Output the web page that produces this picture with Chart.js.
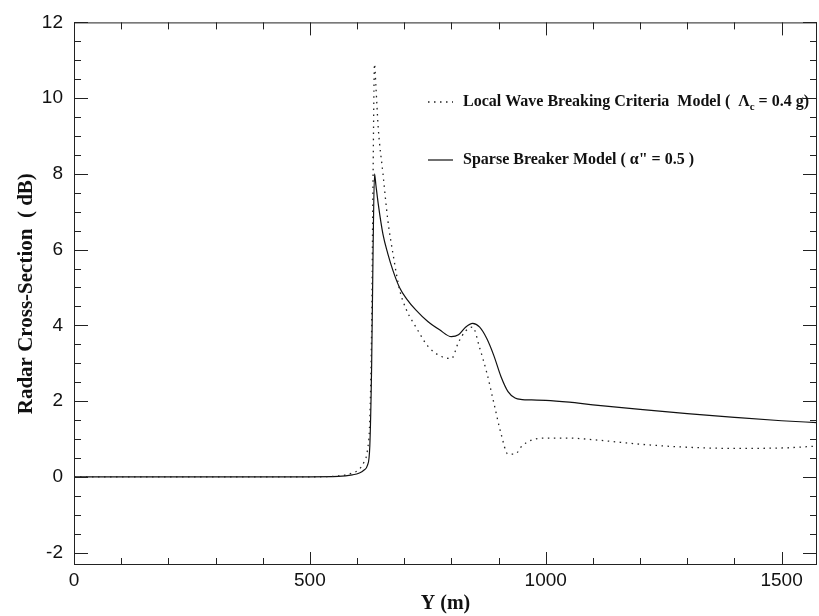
<!DOCTYPE html>
<html>
<head>
<meta charset="utf-8">
<script src="https://cdn.jsdelivr.net/npm/chart.js@4.4.1/dist/chart.umd.min.js"></script>
<style>
  html, body { margin: 0; padding: 0; background: #fff; }
  #wrap { width: 819px; height: 616px; }
</style>
</head>
<body>
<div id="wrap"><canvas id="mainGraph"></canvas></div>
<script>
// distance along track (m)
const yPos = [0, 100, 200, 300, 400, 500, 560, 590, 605, 615, 622, 627, 631, 634, 637, 640, 645, 655, 665, 676, 690, 705, 725, 750, 775, 800, 815, 830, 845, 860, 875, 890, 905, 920, 935, 950, 970, 1000, 1050, 1100, 1200, 1300, 1400, 1500, 1575];

// Local Wave Breaking Criteria Model (dotted)
const localWave = [0, 0, 0, 0, 0, 0, 0.02, 0.1, 0.2, 0.4, 0.7, 1.5, 4.0, 8.0, 10.9, 10.3, 9.2, 8.0, 6.8, 5.9, 4.95, 4.4, 3.95, 3.45, 3.2, 3.12, 3.55, 3.85, 3.95, 3.4, 2.75, 1.95, 1.15, 0.6, 0.6, 0.82, 0.97, 1.02, 1.02, 0.98, 0.86, 0.78, 0.75, 0.76, 0.81];

// Sparse Breaker Model (solid)
const sparse = [0, 0, 0, 0, 0, 0, 0.01, 0.05, 0.1, 0.18, 0.3, 0.8, 3.0, 6.0, 8.0, 7.7, 7.2, 6.4, 5.9, 5.45, 5.0, 4.7, 4.4, 4.1, 3.88, 3.7, 3.75, 3.95, 4.05, 3.95, 3.65, 3.2, 2.65, 2.25, 2.08, 2.04, 2.03, 2.02, 1.97, 1.9, 1.78, 1.67, 1.57, 1.48, 1.43];

const xTicks = [0, 500, 1000, 1500];
const yTicks = [-2, 0, 2, 4, 6, 8, 10, 12];

const toPts = (vals) => vals.map((v, i) => ({x: yPos[i], y: v}));

// inward ticks on all four sides, frame and legend
const frameTicks = {
  id: 'frameTicks',
  afterDraw(chart) {
    const c = chart.ctx, a = chart.chartArea;
    const xs = chart.scales.x, ys = chart.scales.y;
    c.save();
    c.strokeStyle = '#222';
    c.lineWidth = 1;
    c.strokeRect(a.left + 0.5, a.top + 0.5, a.right - a.left - 1, a.bottom - a.top - 1);
    c.beginPath();
    for (let v = 0; v <= xs.max; v += 100) {
      const px = Math.round(xs.getPixelForValue(v)) + 0.5;
      const len = v % 500 === 0 ? 13 : 7;
      c.moveTo(px, a.bottom); c.lineTo(px, a.bottom - len);
      c.moveTo(px, a.top); c.lineTo(px, a.top + len);
    }
    for (let v = -2; v <= 12; v += 0.5) {
      const py = Math.round(ys.getPixelForValue(v)) + 0.5;
      const len = v % 2 === 0 ? 14 : 7;
      c.moveTo(a.left, py); c.lineTo(a.left + len, py);
      c.moveTo(a.right, py); c.lineTo(a.right - len, py);
    }
    c.stroke();

    // legend
    const sx0 = 428, sx1 = 453, tx = 463;
    const rows = [
      {ds: 0, y: 102},
      {ds: 1, y: 160}
    ];
    c.textBaseline = 'middle';
    c.fillStyle = '#111';
    rows.forEach(r => {
      const ds = chart.data.datasets[r.ds];
      c.beginPath();
      c.setLineDash(ds.borderDash || []);
      c.lineWidth = ds.borderWidth;
      c.strokeStyle = ds.borderColor;
      c.moveTo(sx0, r.y); c.lineTo(sx1, r.y);
      c.stroke();
      c.setLineDash([]);
      let x = tx;
      ds.legendParts.forEach(p => {
        c.font = p.sub ? 'bold 11px "Liberation Serif"' : 'bold 16px "Liberation Serif"';
        c.fillText(p.t, x, r.y + (p.sub ? 5 : 0));
        x += c.measureText(p.t).width;
      });
    });
    c.restore();
  }
};

const ctx = document.getElementById('mainGraph').getContext('2d');

const chart = new Chart(ctx, {
  type: 'line',
  data: {
    datasets: [
      {
        label: 'Local Wave Breaking Criteria  Model (  \u039Bc = 0.4 g)',
        legendParts: [{t: 'Local Wave Breaking Criteria  Model (  \u039B'}, {t: 'c', sub: true}, {t: ' = 0.4 g)'}],
        data: toPts(localWave),
        borderColor: '#222',
        borderWidth: 1.3,
        borderDash: [1.5, 4.5],
        pointRadius: 0,
        cubicInterpolationMode: 'monotone'
      },
      {
        label: 'Sparse Breaker Model ( \u03B1" = 0.5 )',
        legendParts: [{t: 'Sparse Breaker Model ( \u03B1" = 0.5 )'}],
        data: toPts(sparse),
        borderColor: '#111',
        borderWidth: 1.2,
        pointRadius: 0,
        cubicInterpolationMode: 'monotone'
      }
    ]
  },
  options: {
    responsive: true,
    maintainAspectRatio: false,
    animation: false,
    layout: { padding: { top: 16, right: 2, left: 0, bottom: 0 } },
    plugins: {
      legend: { display: false },
      tooltip: { enabled: false }
    },
    scales: {
      x: {
        type: 'linear',
        min: 0,
        max: 1575,
        grid: { display: false, drawTicks: false, tickLength: 0 },
        border: { display: false },
        afterBuildTicks: (s) => { s.ticks = xTicks.map(v => ({value: v})); },
        afterFit: (s) => { s.height = 51; },
        ticks: {
          color: '#111',
          font: { family: 'Liberation Sans', size: 19 },
          padding: 4,
          maxRotation: 0,
          callback: (v) => String(v)
        },
        title: {
          display: true,
          text: 'Y (m)',
          color: '#111',
          font: { family: 'Liberation Serif', weight: 'bold', size: 20 },
          padding: { top: 0, bottom: 0 }
        }
      },
      y: {
        min: -2.33,
        max: 12,
        grid: { display: false, drawTicks: false, tickLength: 0 },
        border: { display: false },
        afterBuildTicks: (s) => { s.ticks = yTicks.map(v => ({value: v})); },
        afterFit: (s) => { s.width = 74; },
        ticks: {
          color: '#111',
          font: { family: 'Liberation Sans', size: 19 },
          padding: 11,
          callback: (v) => String(v)
        },
        title: {
          display: true,
          text: 'Radar Cross-Section  ( dB)',
          color: '#111',
          font: { family: 'Liberation Serif', weight: 'bold', size: 21 },
          padding: { top: 14, bottom: 0 }
        }
      }
    }
  },
  plugins: [frameTicks]
});
</script>
</body>
</html>
